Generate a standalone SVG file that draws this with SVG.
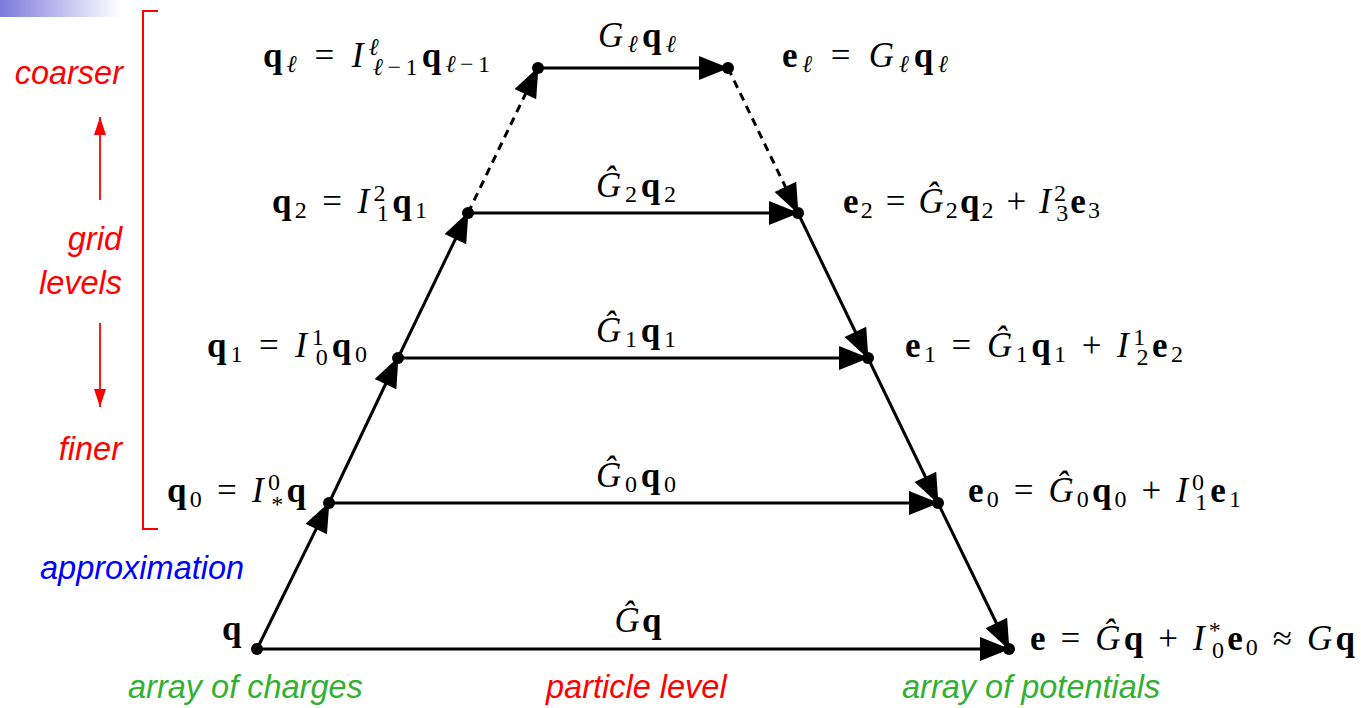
<svg xmlns="http://www.w3.org/2000/svg" width="1361" height="708" viewBox="0 0 1361 708">
<defs>
<linearGradient id="bar" x1="0" y1="0" x2="1" y2="0">
<stop offset="0" stop-color="#7b7bdc"/>
<stop offset="1" stop-color="#ffffff"/>
</linearGradient>
<marker id="ah" markerUnits="userSpaceOnUse" markerWidth="32" markerHeight="26" refX="29" refY="12" orient="auto" overflow="visible">
<path d="M0,0 L30,12 L0,24 z" fill="#000"/>
</marker>
<marker id="rh" markerUnits="userSpaceOnUse" markerWidth="20" markerHeight="14" refX="18" refY="6" orient="auto" overflow="visible">
<path d="M0,0 L18,6 L0,12 z" fill="#ff0000"/>
</marker>
</defs>
<style>
.m{font-family:"Liberation Serif","DejaVu Serif",serif;font-size:35px;fill:#000}
.b{font-weight:bold}
.i{font-style:italic}
.s{font-size:24px}
.side{font-family:"Liberation Sans",Arial,sans-serif;font-style:italic;font-size:32.5px}
.red{fill:#ff0000}
.grn{fill:#33b033}
.blu{fill:#0000ff}
.e{stroke:#000;stroke-width:3;fill:none}
.d{stroke-dasharray:8 6}
.dot{fill:#000}
</style>
<rect x="0" y="0" width="120" height="17" fill="url(#bar)"/>

<g id="side-annotations">
<path d="M158,11 H143 V529 H158" stroke="#ff0000" stroke-width="2" fill="none"/>
<line x1="100" y1="200" x2="100" y2="117" stroke="#ff0000" stroke-width="1.8" marker-end="url(#rh)"/>
<line x1="100" y1="323" x2="100" y2="407" stroke="#ff0000" stroke-width="1.8" marker-end="url(#rh)"/>
<text class="side red" x="123" y="84" text-anchor="end">coarser</text>
<text class="side red" x="122" y="250" text-anchor="end">grid</text>
<text class="side red" x="122" y="294" text-anchor="end">levels</text>
<text class="side red" x="122" y="460" text-anchor="end">finer</text>
<text class="side blu" x="40" y="579">approximation</text>
<text class="side grn" x="128" y="698">array of charges</text>
<text class="side red" x="546" y="698">particle level</text>
<text class="side grn" x="902" y="698">array of potentials</text>
</g>

<g id="connectors">
<line class="e" x1="257" y1="649" x2="329" y2="503" marker-end="url(#ah)"/>
<line class="e" x1="329" y1="503" x2="398" y2="358" marker-end="url(#ah)"/>
<line class="e" x1="398" y1="358" x2="468" y2="213" marker-end="url(#ah)"/>
<line class="e d" x1="468" y1="213" x2="538" y2="68" marker-end="url(#ah)"/>
<line class="e" x1="538" y1="68" x2="728" y2="68" marker-end="url(#ah)"/>
<line class="e d" x1="728" y1="68" x2="798" y2="213" marker-end="url(#ah)"/>
<line class="e" x1="798" y1="213" x2="868" y2="358" marker-end="url(#ah)"/>
<line class="e" x1="868" y1="358" x2="938" y2="503" marker-end="url(#ah)"/>
<line class="e" x1="938" y1="503" x2="1009" y2="649" marker-end="url(#ah)"/>
<line class="e" x1="468" y1="213" x2="798" y2="213" marker-end="url(#ah)"/>
<line class="e" x1="398" y1="358" x2="868" y2="358" marker-end="url(#ah)"/>
<line class="e" x1="329" y1="503" x2="938" y2="503" marker-end="url(#ah)"/>
<line class="e" x1="257" y1="649" x2="1009" y2="649" marker-end="url(#ah)"/>
<text class="m" x="637" y="47" text-anchor="middle" textLength="78" lengthAdjust="spacing"><tspan class="i">G</tspan><tspan class="s i" dy="5">ℓ</tspan><tspan class="b" dy="-5">q</tspan><tspan class="s i" dy="5">ℓ</tspan></text>
<text class="m" x="636" y="197" text-anchor="middle" textLength="80" lengthAdjust="spacing"><tspan class="i">Ĝ</tspan><tspan class="s" dy="5">2</tspan><tspan class="b" dy="-5">q</tspan><tspan class="s" dy="5">2</tspan></text>
<text class="m" x="636" y="342" text-anchor="middle" textLength="80" lengthAdjust="spacing"><tspan class="i">Ĝ</tspan><tspan class="s" dy="5">1</tspan><tspan class="b" dy="-5">q</tspan><tspan class="s" dy="5">1</tspan></text>
<text class="m" x="636" y="487" text-anchor="middle" textLength="80" lengthAdjust="spacing"><tspan class="i">Ĝ</tspan><tspan class="s" dy="5">0</tspan><tspan class="b" dy="-5">q</tspan><tspan class="s" dy="5">0</tspan></text>
<text class="m" x="638" y="632" text-anchor="middle" textLength="47" lengthAdjust="spacing"><tspan class="i">Ĝ</tspan><tspan class="b">q</tspan></text>
</g>

<g id="node-q">
<circle class="dot" cx="257" cy="649" r="6"/>
<text class="m" x="222" y="640"><tspan class="b">q</tspan></text>
</g>
<g id="node-q0">
<circle class="dot" cx="329" cy="503" r="6"/>
<text class="m" x="167" y="502" textLength="139" lengthAdjust="spacing"><tspan class="b">q</tspan><tspan class="s" dy="5">0</tspan><tspan dy="-5"> = </tspan><tspan class="i">I</tspan><tspan class="s" dx="1" dy="-12">0</tspan><tspan class="s" dx="-12" dy="22">*</tspan><tspan class="b" dy="-10">q</tspan></text>
</g>
<g id="node-q1">
<circle class="dot" cx="398" cy="358" r="6"/>
<text class="m" x="207" y="357" textLength="160" lengthAdjust="spacing"><tspan class="b">q</tspan><tspan class="s" dy="5">1</tspan><tspan dy="-5"> = </tspan><tspan class="i">I</tspan><tspan class="s" dx="1" dy="-12">1</tspan><tspan class="s" dx="-12" dy="20">0</tspan><tspan class="b" dy="-8">q</tspan><tspan class="s" dy="5">0</tspan></text>
</g>
<g id="node-q2">
<circle class="dot" cx="468" cy="213" r="6"/>
<text class="m" x="272" y="213" textLength="155" lengthAdjust="spacing"><tspan class="b">q</tspan><tspan class="s" dy="5">2</tspan><tspan dy="-5"> = </tspan><tspan class="i">I</tspan><tspan class="s" dx="1" dy="-12">2</tspan><tspan class="s" dx="-12" dy="20">1</tspan><tspan class="b" dy="-8">q</tspan><tspan class="s" dy="5">1</tspan></text>
</g>
<g id="node-ql">
<circle class="dot" cx="538" cy="68" r="6"/>
<text class="m" x="263" y="67" textLength="227" lengthAdjust="spacing"><tspan class="b">q</tspan><tspan class="s i" dy="5">ℓ</tspan><tspan dy="-5"> = </tspan><tspan class="i">I</tspan><tspan class="s i" dx="1" dy="-12">ℓ</tspan><tspan class="s" dx="-10" dy="20"><tspan class="i">ℓ</tspan>−1</tspan><tspan class="b" dy="-8">q</tspan><tspan class="s" dy="5"><tspan class="i">ℓ</tspan>−1</tspan></text>
</g>
<g id="node-el">
<circle class="dot" cx="728" cy="68" r="6"/>
<text class="m" x="782" y="67" textLength="166" lengthAdjust="spacing"><tspan class="b">e</tspan><tspan class="s i" dy="5">ℓ</tspan><tspan dy="-5"> = </tspan><tspan class="i">G</tspan><tspan class="s i" dy="5">ℓ</tspan><tspan class="b" dy="-5">q</tspan><tspan class="s i" dy="5">ℓ</tspan></text>
</g>
<g id="node-e2">
<circle class="dot" cx="798" cy="213" r="6"/>
<text class="m" x="843" y="213" textLength="257" lengthAdjust="spacing"><tspan class="b">e</tspan><tspan class="s" dy="5">2</tspan><tspan dy="-5"> = </tspan><tspan class="i">Ĝ</tspan><tspan class="s" dy="5">2</tspan><tspan class="b" dy="-5">q</tspan><tspan class="s" dy="5">2</tspan><tspan dy="-5"> + </tspan><tspan class="i">I</tspan><tspan class="s" dx="1" dy="-12">2</tspan><tspan class="s" dx="-12" dy="20">3</tspan><tspan class="b" dy="-8">e</tspan><tspan class="s" dy="5">3</tspan></text>
</g>
<g id="node-e1">
<circle class="dot" cx="868" cy="358" r="6"/>
<text class="m" x="905" y="357" textLength="278" lengthAdjust="spacing"><tspan class="b">e</tspan><tspan class="s" dy="5">1</tspan><tspan dy="-5"> = </tspan><tspan class="i">Ĝ</tspan><tspan class="s" dy="5">1</tspan><tspan class="b" dy="-5">q</tspan><tspan class="s" dy="5">1</tspan><tspan dy="-5"> + </tspan><tspan class="i">I</tspan><tspan class="s" dx="1" dy="-12">1</tspan><tspan class="s" dx="-12" dy="20">2</tspan><tspan class="b" dy="-8">e</tspan><tspan class="s" dy="5">2</tspan></text>
</g>
<g id="node-e0">
<circle class="dot" cx="938" cy="503" r="6"/>
<text class="m" x="968" y="502" textLength="273" lengthAdjust="spacing"><tspan class="b">e</tspan><tspan class="s" dy="5">0</tspan><tspan dy="-5"> = </tspan><tspan class="i">Ĝ</tspan><tspan class="s" dy="5">0</tspan><tspan class="b" dy="-5">q</tspan><tspan class="s" dy="5">0</tspan><tspan dy="-5"> + </tspan><tspan class="i">I</tspan><tspan class="s" dx="1" dy="-12">0</tspan><tspan class="s" dx="-12" dy="20">1</tspan><tspan class="b" dy="-8">e</tspan><tspan class="s" dy="5">1</tspan></text>
</g>
<g id="node-e">
<circle class="dot" cx="1009" cy="649" r="6"/>
<text class="m" x="1030" y="650" textLength="325" lengthAdjust="spacing"><tspan class="b">e</tspan><tspan> = </tspan><tspan class="i">Ĝ</tspan><tspan class="b">q</tspan><tspan> + </tspan><tspan class="i">I</tspan><tspan class="s" dx="1" dy="-12">*</tspan><tspan class="s" dx="-12" dy="20">0</tspan><tspan class="b" dy="-8">e</tspan><tspan class="s" dy="5">0</tspan><tspan dy="-5"> ≈ </tspan><tspan class="i">G</tspan><tspan class="b">q</tspan></text>
</g>
</svg>
